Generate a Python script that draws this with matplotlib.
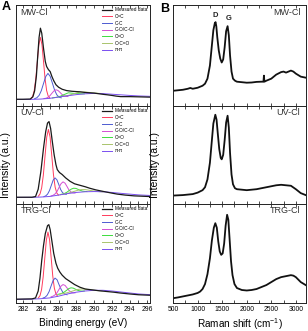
import matplotlib
matplotlib.use("Agg")
import matplotlib.pyplot as plt
from matplotlib.ticker import MultipleLocator

plt.rcParams["font.family"] = ["Liberation Sans", "DejaVu Sans"]
plt.rcParams["mathtext.default"] = "regular"

SAMPLES = ["MW-Cl", "UV-Cl", "TRG-Cl"]
COMP_LABELS = ["C=C", "C-C", "C-O/C-Cl", "C=O", "O-C=O", "π-π"]
COMP_COLORS = ["#ff3b5c", "#4d5bd1", "#d34fd3", "#3ddc3d", "#a9c46c", "#7a4ff0"]

# ---- XPS C1s, MW-Cl ----
mw_meas_be = [281.2, 282.0, 282.8, 283.1, 283.3, 283.5, 283.65, 283.8, 283.95, 284.1, 284.3, 284.5,
              284.65, 284.85, 285.05, 285.25, 285.45, 285.7, 286.0, 286.4, 286.9, 287.5, 288.0, 288.4,
              289.0, 289.5, 290.0, 290.5, 291.0, 291.5, 292.0, 292.5, 293.0, 294.0, 295.0, 296.3]
mw_meas = [0.066, 0.066, 0.068, 0.09, 0.15, 0.3, 0.5, 0.68, 0.77, 0.72, 0.57, 0.44,
           0.39, 0.36, 0.34, 0.29, 0.25, 0.21, 0.185, 0.165, 0.152, 0.145, 0.142, 0.14,
           0.133, 0.13, 0.127, 0.121, 0.115, 0.11, 0.104, 0.097, 0.092, 0.092, 0.09, 0.087]
mw_c2c_be = [282.9, 283.075, 283.25, 283.425, 283.6, 283.775, 283.95, 284.125, 284.3, 284.475, 284.65, 284.825, 285.0]
mw_c2c = [0.075, 0.095, 0.15, 0.266, 0.438, 0.606, 0.678, 0.607, 0.44, 0.268, 0.153, 0.098, 0.079]
mw_cc_be = [283.3, 283.55, 283.8, 284.05, 284.3, 284.55, 284.8, 285.05, 285.3, 285.55, 285.8, 286.05, 286.3]
mw_cc = [0.072, 0.081, 0.104, 0.151, 0.222, 0.291, 0.322, 0.293, 0.226, 0.156, 0.11, 0.087, 0.08]
mw_co_be = [284.35, 284.58, 284.8, 285.03, 285.25, 285.48, 285.7, 285.93, 286.15, 286.38, 286.6, 286.83, 287.05]
mw_co = [0.073, 0.076, 0.085, 0.102, 0.126, 0.149, 0.16, 0.153, 0.135, 0.114, 0.1, 0.094, 0.093]
mw_c2o_be = [285.3, 285.6, 285.9, 286.2, 286.5, 286.8, 287.1, 287.4, 287.7, 288.0, 288.3, 288.6, 288.9]
mw_c2o = [0.079, 0.083, 0.088, 0.096, 0.108, 0.119, 0.13, 0.127, 0.124, 0.122, 0.121, 0.12, 0.12]
mw_oco_be = [286.2, 286.6, 287.0, 287.4, 287.8, 288.2, 288.6, 289.0, 289.4, 289.8, 290.2, 290.6, 291.0]
mw_oco = [0.091, 0.097, 0.103, 0.112, 0.122, 0.133, 0.137, 0.138, 0.134, 0.13, 0.127, 0.124, 0.122]
mw_pi_be = [281.2, 283.0, 284.0, 285.0, 286.0, 287.0, 288.0, 289.0, 290.0, 291.0, 292.0, 293.0, 294.0, 295.0, 296.3]
mw_pi = [0.064, 0.065, 0.068, 0.075, 0.088, 0.1, 0.112, 0.12, 0.124, 0.122, 0.116, 0.11, 0.104, 0.099, 0.095]

# ---- XPS C1s, UV-Cl ----
uv_meas_be = [281.2, 283.0, 283.4, 283.7, 284.0, 284.3, 284.55, 284.75, 284.92, 285.1, 285.3, 285.5,
              285.7, 285.85, 286.1, 286.4, 286.8, 287.3, 287.8, 288.4, 289.0, 289.5, 290.2, 291.1,
              292.0, 292.6, 293.5, 294.5, 296.3]
uv_meas = [0.068, 0.068, 0.075, 0.15, 0.33, 0.57, 0.74, 0.825, 0.84, 0.77, 0.63, 0.5,
           0.4, 0.35, 0.32, 0.3, 0.265, 0.23, 0.205, 0.19, 0.175, 0.16, 0.143, 0.126,
           0.11, 0.1, 0.09, 0.082, 0.075]
uv_c2c_be = [283.71, 283.9, 284.09, 284.28, 284.47, 284.66, 284.85, 285.04, 285.23, 285.42, 285.61, 285.8, 285.99]
uv_c2c = [0.078, 0.1, 0.163, 0.294, 0.489, 0.68, 0.76, 0.682, 0.492, 0.299, 0.17, 0.11, 0.09]
uv_cc_be = [284.34, 284.55, 284.76, 284.97, 285.18, 285.39, 285.6, 285.81, 286.02, 286.23, 286.44, 286.65, 286.86]
uv_cc = [0.074, 0.082, 0.1, 0.136, 0.19, 0.243, 0.265, 0.246, 0.198, 0.147, 0.115, 0.102, 0.097]
uv_co_be = [285.15, 285.38, 285.6, 285.83, 286.05, 286.28, 286.5, 286.73, 286.95, 287.18, 287.4, 287.63, 287.85]
uv_co = [0.081, 0.088, 0.102, 0.128, 0.168, 0.207, 0.225, 0.211, 0.177, 0.14, 0.12, 0.113, 0.111]
uv_c2o_be = [286.2, 286.45, 286.7, 286.95, 287.2, 287.45, 287.7, 287.95, 288.2, 288.45, 288.7, 288.95, 289.2]
uv_c2o = [0.096, 0.1, 0.108, 0.12, 0.137, 0.152, 0.16, 0.158, 0.148, 0.138, 0.13, 0.127, 0.126]
uv_oco_be = [286.2, 286.6, 287.0, 287.4, 287.8, 288.2, 288.6, 289.0, 289.4, 289.8, 290.2, 290.6, 291.0]
uv_oco = [0.095, 0.101, 0.108, 0.118, 0.129, 0.14, 0.146, 0.146, 0.14, 0.134, 0.129, 0.125, 0.122]
uv_pi_be = [281.2, 283.0, 284.0, 285.0, 286.0, 287.0, 288.0, 289.0, 290.0, 291.0, 292.0, 293.0, 294.0, 295.0, 296.3]
uv_pi = [0.066, 0.067, 0.07, 0.076, 0.09, 0.105, 0.117, 0.124, 0.126, 0.124, 0.117, 0.108, 0.1, 0.092, 0.086]

# ---- XPS C1s, TRG-Cl ----
trg_meas_be = [281.2, 283.0, 283.4, 283.7, 283.9, 284.1, 284.3, 284.5, 284.75, 284.9, 285.05, 285.25,
               285.45, 285.7, 285.9, 286.15, 286.4, 286.8, 287.3, 287.8, 288.4, 289.0, 289.9, 290.6,
               291.4, 292.2, 292.9, 294.0, 295.0, 296.3]
trg_meas = [0.037, 0.04, 0.05, 0.12, 0.25, 0.43, 0.58, 0.7, 0.78, 0.79, 0.74, 0.62,
            0.5, 0.4, 0.35, 0.31, 0.28, 0.245, 0.215, 0.185, 0.158, 0.14, 0.13, 0.122,
            0.115, 0.108, 0.1, 0.09, 0.082, 0.077]
trg_c2c_be = [283.72, 283.9, 284.08, 284.26, 284.44, 284.62, 284.8, 284.98, 285.16, 285.34, 285.52, 285.7, 285.88]
trg_c2c = [0.05, 0.072, 0.134, 0.262, 0.45, 0.635, 0.715, 0.639, 0.457, 0.272, 0.148, 0.09, 0.068]
trg_cc_be = [284.25, 284.48, 284.7, 284.93, 285.15, 285.38, 285.6, 285.83, 286.05, 286.28, 286.5, 286.73, 286.95]
trg_cc = [0.049, 0.057, 0.076, 0.114, 0.17, 0.226, 0.25, 0.233, 0.184, 0.138, 0.103, 0.088, 0.082]
trg_co_be = [285.15, 285.38, 285.6, 285.83, 286.05, 286.28, 286.5, 286.73, 286.95, 287.18, 287.4, 287.63, 287.85]
trg_co = [0.061, 0.068, 0.081, 0.104, 0.137, 0.17, 0.185, 0.176, 0.151, 0.124, 0.108, 0.101, 0.101]
trg_c2o_be = [285.9, 286.15, 286.4, 286.65, 286.9, 287.15, 287.4, 287.65, 287.9, 288.15, 288.4, 288.65, 288.9]
trg_c2o = [0.086, 0.09, 0.098, 0.11, 0.127, 0.144, 0.152, 0.149, 0.138, 0.127, 0.121, 0.119, 0.12]
trg_oco_be = [286.1, 286.5, 286.9, 287.3, 287.7, 288.1, 288.5, 288.9, 289.3, 289.7, 290.1, 290.5, 290.9]
trg_oco = [0.088, 0.094, 0.101, 0.111, 0.123, 0.134, 0.14, 0.14, 0.135, 0.13, 0.126, 0.124, 0.122]
trg_pi_be = [281.2, 283.0, 284.0, 285.0, 286.0, 287.0, 288.0, 289.0, 290.0, 291.0, 292.0, 293.0, 294.0, 295.0, 296.3]
trg_pi = [0.035, 0.038, 0.042, 0.05, 0.068, 0.09, 0.108, 0.12, 0.127, 0.127, 0.12, 0.11, 0.1, 0.09, 0.083]

# ---- Raman ----
mw_shift = [500, 600, 700, 800, 850, 900, 1000, 1100, 1150, 1200, 1250, 1290, 1320, 1350, 1365, 1380,
            1400, 1430, 1460, 1490, 1520, 1550, 1580, 1610, 1635, 1660, 1690, 1720, 1760, 1800, 1900,
            2000, 2100, 2200, 2300, 2340, 2350, 2360, 2400, 2500, 2600, 2700, 2750, 2800, 2850, 2900,
            2950, 3000, 3100, 3200]
mw_raman = [0.15, 0.155, 0.16, 0.17, 0.178, 0.17, 0.18, 0.2, 0.22, 0.27, 0.4, 0.6, 0.75, 0.82, 0.83, 0.79,
            0.68, 0.55, 0.47, 0.43, 0.46, 0.58, 0.74, 0.79, 0.7, 0.5, 0.34, 0.27, 0.25, 0.24, 0.235,
            0.23, 0.232, 0.238, 0.24, 0.24, 0.3, 0.24, 0.25, 0.27, 0.31, 0.335, 0.34, 0.33, 0.34, 0.35,
            0.34, 0.32, 0.29, 0.28]
uv_shift = [500, 700, 900, 1000, 1100, 1150, 1200, 1250, 1290, 1320, 1360, 1385, 1410, 1440, 1470, 1490,
            1520, 1550, 1580, 1610, 1635, 1660, 1690, 1720, 1760, 1800, 1900, 2000, 2100, 2200, 2300,
            2400, 2500, 2600, 2700, 2800, 2900, 3000, 3100, 3200]
uv_raman = [0.085, 0.09, 0.1, 0.115, 0.14, 0.17, 0.25, 0.42, 0.65, 0.82, 0.91, 0.86, 0.72, 0.56, 0.47, 0.455,
            0.5, 0.65, 0.83, 0.9, 0.78, 0.52, 0.3, 0.2, 0.16, 0.15, 0.145, 0.14, 0.145, 0.15, 0.16,
            0.17, 0.18, 0.19, 0.195, 0.19, 0.185, 0.15, 0.11, 0.09]
trg_shift = [500, 600, 700, 800, 900, 1000, 1050, 1100, 1150, 1200, 1250, 1290, 1330, 1360, 1390, 1420,
             1450, 1480, 1510, 1540, 1570, 1600, 1625, 1650, 1680, 1710, 1750, 1800, 1900, 2000, 2100,
             2200, 2300, 2400, 2500, 2600, 2700, 2800, 2900, 2950, 3000, 3100, 3200]
trg_raman = [0.047, 0.055, 0.065, 0.075, 0.085, 0.1, 0.114, 0.14, 0.19, 0.29, 0.45, 0.63, 0.76, 0.805, 0.76, 0.62,
             0.52, 0.485, 0.5, 0.6, 0.78, 0.89, 0.84, 0.65, 0.42, 0.28, 0.19, 0.15, 0.13, 0.125, 0.13,
             0.14, 0.16, 0.18, 0.21, 0.24, 0.26, 0.27, 0.28, 0.275, 0.26, 0.21, 0.18]

xps = [
    ((mw_meas_be, mw_meas), [(mw_c2c_be, mw_c2c), (mw_cc_be, mw_cc), (mw_co_be, mw_co),
                             (mw_c2o_be, mw_c2o), (mw_oco_be, mw_oco), (mw_pi_be, mw_pi)]),
    ((uv_meas_be, uv_meas), [(uv_c2c_be, uv_c2c), (uv_cc_be, uv_cc), (uv_co_be, uv_co),
                             (uv_c2o_be, uv_c2o), (uv_oco_be, uv_oco), (uv_pi_be, uv_pi)]),
    ((trg_meas_be, trg_meas), [(trg_c2c_be, trg_c2c), (trg_cc_be, trg_cc), (trg_co_be, trg_co),
                               (trg_c2o_be, trg_c2o), (trg_oco_be, trg_oco), (trg_pi_be, trg_pi)]),
]
raman = [(mw_shift, mw_raman), (uv_shift, uv_raman), (trg_shift, trg_raman)]

fig = plt.figure(figsize=(3.08, 3.31), dpi=100)
rows = [(0.680, 0.305), (0.384, 0.296), (0.085, 0.299)]


def style_axis(ax, last):
    for s in ax.spines.values():
        s.set_linewidth(0.7)
        s.set_color("#222222")
    ax.tick_params(axis="x", which="both", direction="in", top=True, bottom=True,
                   length=2, width=0.5, labelsize=4.9, pad=2, labelbottom=last)
    ax.tick_params(axis="y", left=False, labelleft=False)
    ax.set_ylim(0, 1)


for i, name in enumerate(SAMPLES):
    bottom, height = rows[i]
    last = i == 2

    # XPS panel
    ax = fig.add_axes([0.052, bottom, 0.435, height])
    (mbe, meas), comps = xps[i]
    handles = []
    for (be, vals), color, lab in zip(comps, COMP_COLORS, COMP_LABELS):
        h, = ax.plot(be, vals, color=color, lw=0.7, label=lab)
        handles.append(h)
    hm, = ax.plot(mbe, meas, color="#1a1a1a", lw=0.9, label="Measured data")
    ax.legend(handles=[hm] + handles, loc="upper left", bbox_to_anchor=(0.64, 0.975),
              frameon=False, fontsize=3.4, handlelength=2.2, handletextpad=0.6,
              labelspacing=0.35, borderpad=0, borderaxespad=0)
    ax.set_xlim(281.2, 296.3)
    ax.xaxis.set_major_locator(MultipleLocator(2))
    ax.xaxis.set_minor_locator(MultipleLocator(1))
    style_axis(ax, last)
    ax.text(0.035, 0.93, name, transform=ax.transAxes, fontsize=6.5, color="#333333", va="center")
    if last:
        ax.set_xlabel("Binding energy (eV)", fontsize=7.2, labelpad=3.5)

    # Raman panel
    bx = fig.add_axes([0.562, bottom, 0.432, height])
    sx, sy = raman[i]
    bx.plot(sx, sy, color="#111111", lw=1.3)
    bx.set_xlim(500, 3210)
    bx.xaxis.set_major_locator(MultipleLocator(500))
    bx.xaxis.set_minor_locator(MultipleLocator(250))
    style_axis(bx, last)
    bx.text(0.955, 0.93, name, transform=bx.transAxes, fontsize=6.5, color="#333333",
            va="center", ha="right")
    if i == 0:
        bx.text(1360, 0.9, "D", fontsize=5.5, fontweight="bold", ha="center", va="center", color="#222222")
        bx.text(1625, 0.87, "G", fontsize=5.5, fontweight="bold", ha="center", va="center", color="#222222")
    if last:
        bx.set_xlabel("Raman shift (cm$^{-1}$)", fontsize=7.2, labelpad=2.5)

fig.text(0.006, 0.997, "A", fontsize=9, fontweight="bold", va="top")
fig.text(0.52, 0.99, "B", fontsize=9, fontweight="bold", va="top")
fig.text(0.018, 0.5, "Intensity (a.u.)", rotation=90, va="center", ha="center", fontsize=7.5)
fig.text(0.503, 0.5, "Intensity (a.u.)", rotation=90, va="center", ha="center", fontsize=7.5)

fig.savefig("out.png", dpi=100)
